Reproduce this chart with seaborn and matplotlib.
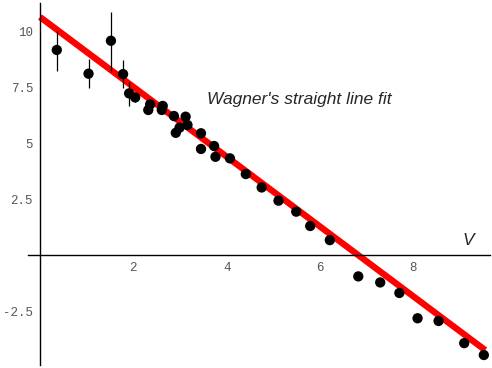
import numpy as np
import matplotlib
matplotlib.use("Agg")
import matplotlib.pyplot as plt
import seaborn as sns
from matplotlib.ticker import MultipleLocator

# measured points
v = [0.36, 1.04, 1.52, 1.78, 1.91, 2.04, 2.32, 2.36, 2.61, 2.63, 2.87, 2.91,
     2.99, 3.12, 3.16, 3.45, 3.45, 3.73, 3.76, 4.07, 4.41, 4.75, 5.11, 5.49,
     5.79, 6.21, 6.82, 7.29, 7.70, 8.09, 8.54, 9.09, 9.51]
y = [9.17, 8.11, 9.58, 8.09, 7.23, 7.05, 6.49, 6.74, 6.49, 6.67, 6.22, 5.47,
     5.70, 6.19, 5.82, 5.45, 4.75, 4.88, 4.40, 4.33, 3.63, 3.03, 2.44, 1.95,
     1.31, 0.68, -0.94, -1.21, -1.68, -2.81, -2.93, -3.92, -4.45]

# error bars (only the first few points have visible ones)
err_v = [0.36, 1.04, 1.52, 1.78, 1.91, 2.04]
err_y = [9.17, 8.11, 9.58, 8.09, 7.23, 7.05]
err_lo = [0.93, 0.65, 1.34, 0.63, 0.56, 0.20]
err_hi = [0.86, 0.64, 1.30, 0.63, 0.52, 0.15]

# Wagner's straight line fit
fit_v = [0.0, 9.54]
intercept = 10.64
slope = -1.559
fit_y = [intercept + slope * t for t in fit_v]

sns.set_style("white")
fig = plt.figure(figsize=(4.92, 3.68), dpi=100)
ax = fig.add_axes([0, 0, 1, 1])

sns.lineplot(x=fit_v, y=fit_y, color="red", linewidth=4.6, ax=ax,
             solid_capstyle="butt", zorder=2)
ax.errorbar(err_v, err_y, yerr=[err_lo, err_hi], fmt="none", ecolor="black",
            elinewidth=0.9, zorder=3)
sns.scatterplot(x=v, y=y, color="black", s=55, edgecolor="none", ax=ax, zorder=4)

ax.set_xlim(-0.857, 9.685)
ax.set_ylim(-5.03, 11.40)

for s in ["top", "right"]:
    ax.spines[s].set_visible(False)
ax.spines["left"].set_position(("data", 0))
ax.spines["bottom"].set_position(("data", 0))
ax.spines["left"].set_bounds(-4.9, 11.26)
ax.spines["bottom"].set_bounds(-0.26, 9.64)
for s in ["left", "bottom"]:
    ax.spines[s].set_linewidth(1.0)
    ax.spines[s].set_color("black")

ax.set_xticks([2, 4, 6, 8])
ax.set_yticks([-2.5, 2.5, 5, 7.5, 10])
ax.set_yticklabels(["-2.5", "2.5", "5", "7.5", "10"])
ax.xaxis.set_minor_locator(MultipleLocator(0.5))
ax.yaxis.set_minor_locator(MultipleLocator(0.5))
ax.tick_params(which="major", direction="in", length=4, width=0.8,
               labelsize=9, labelcolor="#555555", labelfontfamily="Liberation Mono")
ax.tick_params(which="minor", direction="in", length=2.5, width=0.6)
ax.tick_params(axis="x", which="major", pad=5)
ax.tick_params(axis="y", which="major", pad=5)

ax.text(3.58, 6.95, "Wagner's straight line fit", fontsize=12.5, style="italic",
        family="Liberation Sans", ha="left", va="center")
ax.text(9.17, 0.68, "V", fontsize=12.5, style="italic", family="Liberation Sans",
        ha="center", va="center")

fig.savefig("out.png", dpi=100)
